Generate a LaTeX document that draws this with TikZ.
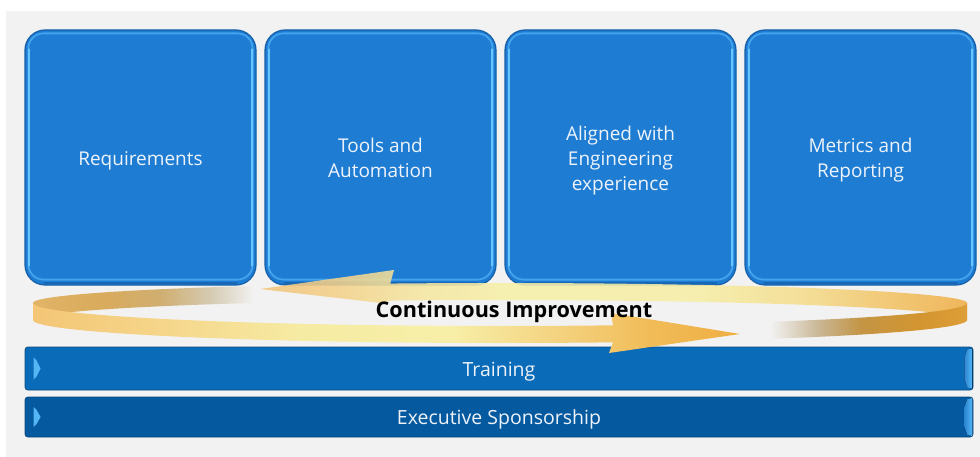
\documentclass[tikz,border=0pt]{standalone}
\usepackage{fontspec}
\setmainfont{Open Sans}
\definecolor{bg}{HTML}{F2F2F2}
\definecolor{boxfill}{HTML}{1E7DD3}
\definecolor{boxrim}{HTML}{43A3EC}
\definecolor{boxside}{HTML}{66C4FF}
\definecolor{boxline}{HTML}{1560A8}
\definecolor{boxbottom}{HTML}{1866B6}
\definecolor{trainfill}{HTML}{0A6BB8}
\definecolor{execfill}{HTML}{05599F}
\definecolor{barline}{HTML}{0A4A82}
\definecolor{bevel}{HTML}{55B6F6}
\definecolor{beveldark}{HTML}{2C86D2}
\definecolor{txt}{HTML}{EEF3FA}
% front arrow stops
\definecolor{fa}{HTML}{F4C676}
\definecolor{fb}{HTML}{F5D488}
\definecolor{fc}{HTML}{F6EBA3}
\definecolor{fd}{HTML}{F7EFA8}
\definecolor{fe}{HTML}{F4D27F}
\definecolor{ff}{HTML}{F1BC58}
\definecolor{fg}{HTML}{EFAE42}
% back arrow stops
\definecolor{ba}{HTML}{F2C47A}
\definecolor{bb}{HTML}{F3CF88}
\definecolor{bc}{HTML}{F5E6A0}
\definecolor{bd}{HTML}{F6EFA8}
\definecolor{be}{HTML}{F6EEA5}
\definecolor{bf}{HTML}{F5DD8E}
\definecolor{bgg}{HTML}{F1C061}
\definecolor{bh}{HTML}{EFAE48}
% tails
\definecolor{la}{HTML}{E2B468}
\definecolor{lb}{HTML}{D9AB5C}
\definecolor{lc}{HTML}{D0AE70}
\definecolor{ld}{HTML}{D5CBB2}
\definecolor{le}{HTML}{E8E5DD}
\definecolor{ra}{HTML}{C8B592}
\definecolor{rb}{HTML}{C49545}
\definecolor{rc}{HTML}{D39530}
\definecolor{rd}{HTML}{DE9E38}
\pgfdeclarehorizontalshading{frontshade}{100bp}{color(0bp)=(fa); color(25bp)=(fa); color(33.3bp)=(fb); color(43.9bp)=(fc); color(54.5bp)=(fd); color(62.3bp)=(fe); color(68.6bp)=(ff); color(75bp)=(fg); color(100bp)=(fg)}
\pgfdeclarehorizontalshading{backshade}{100bp}{color(0bp)=(ba); color(25bp)=(ba); color(29.9bp)=(bb); color(36.3bp)=(bc); color(42bp)=(bd); color(56.1bp)=(be); color(63.2bp)=(bf); color(70.3bp)=(bgg); color(75bp)=(bh); color(100bp)=(bh)}
\pgfdeclarehorizontalshading{ltailshade}{100bp}{color(0bp)=(la); color(25bp)=(la); color(40.3bp)=(lb); color(54bp)=(lc); color(65.4bp)=(ld); color(72.3bp)=(le); color(75bp)=(bg); color(100bp)=(bg)}
\pgfdeclarehorizontalshading{rtailshade}{100bp}{color(0bp)=(bg); color(25bp)=(bg); color(30.2bp)=(bg); color(41.6bp)=(ra); color(50.7bp)=(rb); color(64.3bp)=(rc); color(75bp)=(rd); color(100bp)=(rd)}
\begin{document}
\begin{tikzpicture}[x=1pt,y=-1pt,
  bigbox/.style={minimum width=231pt, minimum height=255pt, rounded corners=20pt,
    fill=boxfill, draw=boxline, line width=1.2pt, inner sep=0pt},
  boxtext/.style={text=txt, align=center, font=\fontsize{19}{25}\selectfont},
  rim/.style={draw=boxrim, line width=1.8pt, rounded corners=15pt},
  rimside/.style={draw=boxside, line width=2pt, line cap=round},
  rimbottom/.style={draw=boxbottom, line width=2.5pt, line cap=round},
  bar/.style={minimum width=948pt, rounded corners=3pt, draw=barline, line width=0.8pt,
    inner sep=0pt},
  bartext/.style={text=txt, font=\fontsize{19.5}{23}\selectfont},
  bevelL/.style={fill=bevel},
  bevelR/.style={left color=beveldark, right color=bevel},
  citext/.style={text=black, font=\bfseries\fontsize{21.6}{26}\selectfont}
]
\useasboundingbox (0,0) rectangle (980,457);
\fill[white] (0,0) rectangle (980,457);
\fill[bg] (6,11) rectangle (980,457);

% boxes
\node[bigbox] (b1) at (140.5,157.5) {};
\node[bigbox] (b2) at (380.5,157.5) {};
\node[bigbox] (b3) at (620.5,157.5) {};
\node[bigbox] (b4) at (860.5,157.5) {};
\foreach \b in {b1,b2,b3,b4}{
  \draw[rimbottom] ([shift={(20,-2.5)}]\b.south west) -- ([shift={(-20,-2.5)}]\b.south east);
  \draw[rim] ([shift={(4,4)}]\b.north west) rectangle ([shift={(-4,-6)}]\b.south east);
  \draw[rimside] ([shift={(5,20)}]\b.north west) -- ([shift={(5,-20)}]\b.south west);
  \draw[rimside] ([shift={(-5,20)}]\b.north east) -- ([shift={(-5,-20)}]\b.south east);
}
\node[boxtext] (t1) at ([shift={(0,3)}]b1.center) {Requirements};
\node[boxtext] (t2) at ([shift={(0,0)}]b2.center) {Tools and\\Automation};
\node[boxtext] (t3) at ([shift={(0,3)}]b3.center) {Aligned with\\Engineering\\experience};
\node[boxtext] (t4) at ([shift={(0,3)}]b4.center) {Metrics and\\Reporting};

% bars
\node[bar, fill=trainfill, minimum height=43pt] (train) at (499,368.5) {};
\node[bar, fill=execfill, minimum height=40pt] (exec) at (499,417) {};
\foreach \b/\h in {train/11, exec/10}{
  \fill[bevelL] ([shift={(9,-\h)}]\b.west) -- ([shift={(12,-\h+3)}]\b.west) -- ([shift={(16,0)}]\b.west)
    -- ([shift={(12,\h-3)}]\b.west) -- ([shift={(9,\h)}]\b.west) -- cycle;
  \fill[bevelR] ([shift={(-1,-\h-9)}]\b.east) -- ([shift={(-6,-\h-8)}]\b.east) -- ([shift={(-9,-\h)}]\b.east)
    -- ([shift={(-9,\h)}]\b.east) -- ([shift={(-6,\h+8)}]\b.east) -- ([shift={(-1,\h+9)}]\b.east) -- cycle;
}
\node[bartext] (trainlbl) at ([shift={(0,3)}]train.center) {Training};
\node[bartext] (execlbl) at ([shift={(0,2.5)}]exec.center) {Executive Sponsorship};

% ring: back-left tail of the front arrow
\path[shading=ltailshade]
  plot[domain=180:122, samples=40] ({500+467*cos(\x)},{303-20*sin(\x)})
  -- plot[domain=122:180, samples=40] ({500+467*cos(\x)},{320-20*sin(\x)}) -- cycle;
% back arrow (right to left)
\path[fill opacity=0.88, shading=backshade]
  plot[domain=0:103.6, samples=60] ({500+467*cos(\x)},{303-20*sin(\x)})
  -- (394,270) -- (260,289) -- (381,303)
  -- plot[domain=103.6:0, samples=60] ({500+467*cos(\x)},{320-20*sin(\x)}) -- cycle;
% front-right tail of the back arrow
\path[shading=rtailshade]
  plot[domain=302:360, samples=40] ({500+467*cos(\x)},{303-23*sin(\x)})
  -- plot[domain=360:302, samples=40] ({500+467*cos(\x)},{320-23*sin(\x)}) -- cycle;
% front arrow (left to right)
\path[shading=frontshade]
  plot[domain=180:284, samples=60] ({500+467*cos(\x)},{303-23*sin(\x)})
  -- (611,313) -- (740,334) -- (609,353)
  -- plot[domain=284:180, samples=60] ({500+467*cos(\x)},{320-23*sin(\x)}) -- cycle;

\node[citext] (ci) at (514,312) {Continuous Improvement};
\end{tikzpicture}
\end{document}
